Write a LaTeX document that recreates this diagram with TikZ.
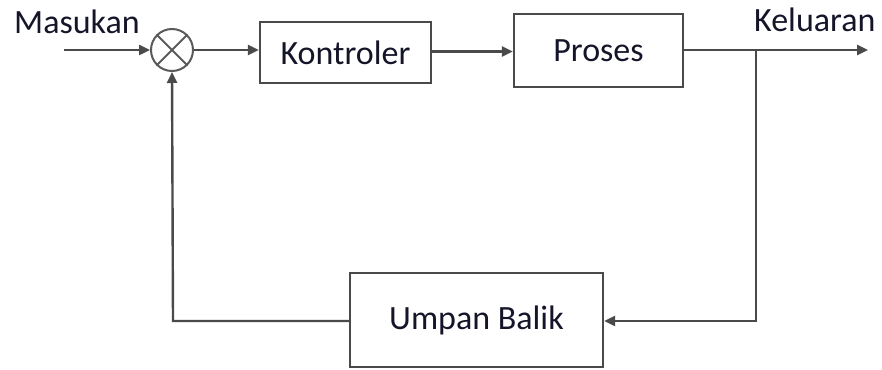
\documentclass[tikz,border=0pt]{standalone}
\usepackage{fontspec}
\setmainfont{Carlito}
\usetikzlibrary{arrows.meta,calc}
\definecolor{linec}{HTML}{4A4A4A}
\definecolor{circc}{HTML}{5A5A5A}
\definecolor{txtc}{HTML}{15152A}
\begin{document}
\begin{tikzpicture}[x=1pt,y=-1pt,
  every node/.style={font=\fontsize{34}{40}\selectfont, text=txtc},
  blockbox/.style={draw=linec, line width=2.4pt, inner sep=0pt},
  conn/.style={draw=linec, line width=2.4pt},
  arr/.style={conn, -{Triangle[length=11pt,width=10pt]}},
  lbl/.style={inner sep=0pt, anchor=base west}]
\useasboundingbox (0,0) rectangle (882,369);
% blocks
\node[blockbox, minimum width=171pt, minimum height=61pt] (kon) at (345.5,52.5) {Kontroler};
\node[blockbox, minimum width=169pt, minimum height=73pt] (pro) at (598.5,50.5) {Proses};
\node[blockbox, minimum width=253pt, minimum height=94pt] (fb) at (476.5,320) {Umpan Balik};
% summing junction
\node[draw=circc, line width=2pt, circle, minimum size=42pt, inner sep=0pt] (sum) at (172,50) {};
\draw[circc, line width=2pt] (sum.north west) -- (sum.south east) (sum.north east) -- (sum.south west);
% labels
\node[lbl] (min) at (14,34) {Masukan};
\node[lbl] (mout) at (754,32) {Keluaran};
% coordinates
\coordinate (in) at (64,50);
\coordinate (out) at (868,50);
\coordinate (br) at (756,50);
\coordinate (lc) at (173,321);
% connectors
\draw[arr] (in) -- (sum.west);
\draw[arr] (sum.east) -- (sum.east -| kon.west);
\draw[arr] ($(kon.east)+(0,-1)$) -- ($(kon.east -| pro.west)+(0,-1)$);
\draw[arr] (pro.east |- out) -- (out);
\draw[arr] (br) |- ($(fb.east)+(0,1)$);
\draw[arr] ($(fb.west)+(0,1)$) -- (lc) -- (sum.south);
\end{tikzpicture}
\end{document}
